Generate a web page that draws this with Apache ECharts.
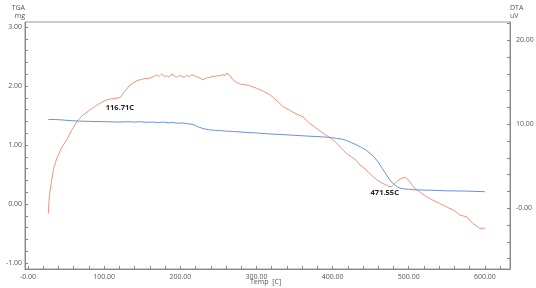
<!DOCTYPE html>
<html><head><meta charset="utf-8">
<script src="https://cdn.jsdelivr.net/npm/echarts@6/dist/echarts.min.js"></script>
<style>html,body{margin:0;padding:0;background:#fff}#c{width:536px;height:288px}</style>
</head><body><div id="c"></div>
<script>
// TGA (left axis, mg)
const tgaTemp = [26.6,40,55,68,85,103,120,130,140,147,155,163,170,178,185,190,196,203,210,217,223,230,237,245,250,253,256,262,270,285,300,315,331,350,370,385,396,405,412,418,425,432,438,444,450,455,460,465,470,475,480,485,490,495,500,510,530,550,575,600];
const tgaVal = [1.435,1.43,1.415,1.405,1.40,1.395,1.39,1.395,1.39,1.395,1.385,1.39,1.38,1.39,1.375,1.385,1.37,1.375,1.36,1.35,1.31,1.28,1.26,1.25,1.245,1.25,1.24,1.235,1.23,1.215,1.205,1.19,1.18,1.165,1.15,1.14,1.13,1.115,1.10,1.08,1.04,1.00,0.96,0.915,0.85,0.79,0.71,0.61,0.51,0.41,0.34,0.29,0.265,0.255,0.25,0.24,0.235,0.225,0.22,0.21];
// DTA (right axis, uV)
const dtaTemp = [26.6,28,31,34,38,44,51,58,64,72,81,94,103,108,116,121,125,134,143,151,160,165,169,172,175.5,179,182,185,188.6,192,195,198,201.7,205,208,212,215,218,221,226,230,234,239,243,247.6,252,256,259,261,263,265,268,272,278,285,291,300,310,318,327,335,345,353,361,370,379,388,396,405,412,418,425,431,436,440,447,453,458,465,471,474,477,480,484,489,495,498,501,505,508,515,523,531,540,549,558,563,567,571,576,580,584,589,593,600];
const dtaVal = [-0.6,1.5,3.4,4.9,6.0,7.2,8.2,9.4,10.3,11.1,11.7,12.5,12.9,13.0,13.1,13.2,13.7,14.7,15.2,15.4,15.5,15.7,15.9,15.7,16.0,15.7,15.8,15.6,16.0,15.8,15.6,15.8,15.75,15.6,15.8,15.7,15.9,15.8,15.7,15.5,15.3,15.5,15.6,15.7,15.75,15.8,15.9,15.8,16.1,15.9,15.8,15.4,15.1,14.8,14.7,14.6,14.3,13.9,13.5,12.8,12.1,11.6,11.2,10.9,10.1,9.5,8.9,8.45,7.8,7.1,6.55,6.1,5.7,5.15,4.9,4.3,3.8,3.4,3.0,2.75,2.6,2.57,2.8,3.17,3.5,3.7,3.5,3.2,2.7,2.38,1.9,1.4,1.0,0.6,0.2,-0.2,-0.5,-0.8,-0.9,-1.0,-1.4,-1.8,-2.1,-2.38,-2.38];
// tick labels
const xLabels = [0,100,200,300,400,500,600];
const yLeftLabels = [-1,0,1,2,3];
const yRightLabels = [0,10,20];
const xAxisTitle = 'Temp  [C]';
const annotations = [
  {text:'116.71C', temp:120.7, dta:11.9},
  {text:'471.55C', temp:468.5, dta:1.8}
];

function range(a,b,s){const r=[];for(let v=a;v<=b+1e-9;v+=s)r.push(+v.toFixed(4));return r;}
const tgaData = tgaTemp.map((t,i)=>[t,tgaVal[i]]);
const dtaData = dtaTemp.map((t,i)=>[t,dtaVal[i]]);
const lab = {color:'#555',fontSize:7,fontFamily:'Open Sans'};

const chart = echarts.init(document.getElementById('c'));
chart.setOption({
  animation:false,
  grid:{left:25,right:26,top:22,bottom:19,outerBoundsMode:'none',containLabel:false,show:true,borderColor:'#999',borderWidth:1},
  graphic:[{type:'text',left:250,top:278,style:{text:xAxisTitle,fill:'#555',fontSize:7,fontFamily:'Open Sans'}}],
  xAxis:{type:'value',min:-4,max:633,
    axisLine:{show:true,onZero:false,lineStyle:{color:'#888'}},
    axisTick:{show:true,inside:true,length:3,customValues:range(0,620,20),lineStyle:{color:'#888'}},
    axisLabel:Object.assign({customValues:xLabels,margin:4,formatter:v=>v===0?'-0.00':v.toFixed(2)},lab),
    splitLine:{show:false}},
  yAxis:[
    {type:'value',min:-1.1,max:3.085,position:'left',
     name:'TGA\n  mg',nameGap:2,nameTextStyle:{color:'#555',fontSize:7,fontFamily:'Open Sans',align:'right',lineHeight:8},
     axisLine:{show:true,onZero:false,lineStyle:{color:'#888'}},
     axisTick:{show:true,inside:true,length:3,customValues:range(-1,3,0.2),lineStyle:{color:'#888'}},
     axisLabel:Object.assign({customValues:yLeftLabels,margin:3,formatter:v=>v.toFixed(2)},lab),
     splitLine:{show:false}},
    {type:'value',min:-7.23,max:22.18,position:'right',
     name:'DTA\nuV',nameGap:2,nameTextStyle:{color:'#555',fontSize:7,fontFamily:'Open Sans',align:'left',lineHeight:8},
     axisLine:{show:true,onZero:false,lineStyle:{color:'#888'}},
     axisTick:{show:true,inside:true,length:3,customValues:range(-6,22,2),lineStyle:{color:'#888'}},
     axisLabel:Object.assign({customValues:yRightLabels,margin:6,formatter:v=>v===0?'-0.00':v.toFixed(2)},lab),
     splitLine:{show:false}}
  ],
  series:[
    {type:'line',name:'DTA',yAxisIndex:1,data:dtaData,showSymbol:false,symbol:'none',
     lineStyle:{color:'#f2907c',width:1},
     markPoint:{symbol:'circle',symbolSize:1,itemStyle:{color:'rgba(0,0,0,0)'},
       label:{show:true,position:'inside',color:'#222',fontSize:7.5,fontWeight:'bold',fontFamily:'Open Sans',formatter:p=>p.name},
       data:annotations.map(a=>({name:a.text,coord:[a.temp,a.dta]}))}},
    {type:'line',name:'TGA',yAxisIndex:0,data:tgaData,showSymbol:false,symbol:'none',
     lineStyle:{color:'#6890e2',width:1}}
  ]
});
</script></body></html>
